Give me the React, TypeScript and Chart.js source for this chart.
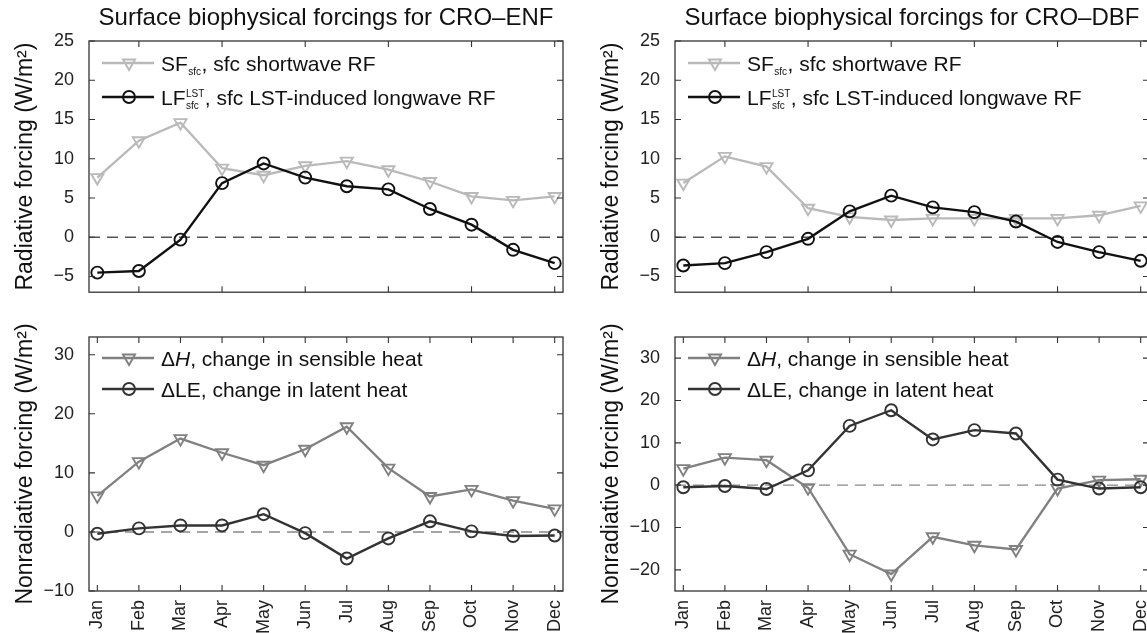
import React, { useEffect, useRef } from "react";
import { Chart, registerables } from "chart.js";

Chart.register(...registerables);

const FONT = "'Liberation Sans', Arial, Helvetica, sans-serif";

// ---------- data ----------
const months = ["Jan", "Feb", "Mar", "Apr", "May", "Jun", "Jul", "Aug", "Sep", "Oct", "Nov", "Dec"];
const monthIndex = [1, 2, 3, 4, 5, 6, 7, 8, 9, 10, 11, 12];

// CRO–ENF
const enfSF = [7.6, 12.3, 14.6, 8.8, 7.9, 9.1, 9.7, 8.6, 7.1, 5.2, 4.7, 5.2];
const enfLF = [-4.5, -4.3, -0.3, 6.9, 9.4, 7.6, 6.5, 6.1, 3.6, 1.6, -1.6, -3.3];
const enfDH = [6.1, 11.9, 15.8, 13.4, 11.3, 14.0, 17.8, 10.8, 6.0, 7.2, 5.3, 3.9];
const enfDLE = [-0.3, 0.6, 1.1, 1.1, 3.0, -0.2, -4.5, -1.1, 1.8, 0.1, -0.7, -0.6];

// CRO–DBF
const dbfSF = [6.9, 10.3, 9.0, 3.7, 2.6, 2.2, 2.4, 2.4, 2.4, 2.4, 2.8, 4.0];
const dbfLF = [-3.6, -3.3, -1.9, -0.2, 3.3, 5.3, 3.8, 3.2, 2.0, -0.6, -1.9, -3.0];
const dbfDH = [3.9, 6.5, 5.9, -0.6, -16.3, -21.0, -12.2, -14.2, -15.2, -0.8, 1.2, 1.4];
const dbfDLE = [-0.5, -0.2, -0.9, 3.5, 14.0, 17.7, 10.8, 13.0, 12.2, 1.3, -0.8, -0.5];

// tick values
const radTicks = [-5, 0, 5, 10, 15, 20, 25];
const enfNonRadTicks = [-10, 0, 10, 20, 30];
const dbfNonRadTicks = [-20, -10, 0, 10, 20, 30];
const topXTicks = [2, 4, 6, 8, 10, 12];
const bottomXTicks = monthIndex;

// ---------- styling ----------
const C_SF = "#b9b9b9";
const C_LF = "#111111";
const C_DH = "#808080";
const C_DLE = "#333333";

type Run = { t?: string; sub?: string; sup?: string; italic?: boolean };
type Series = { values: number[]; color: string; marker: "tri" | "circ"; lineWidth: number; order: number; runs: Run[] };
type PanelCfg = {
  title?: string;
  yTitle: string;
  yMin: number;
  yMax: number;
  yTicks: number[];
  xTicks: number[];
  showXLabels: boolean;
  xAxisH: number;
  topPad: number;
  zeroColor: string;
  legendRows: number[];
  series: Series[];
};

const sfRuns: Run[] = [{ t: "SF" }, { sub: "sfc" }, { t: ", sfc shortwave RF" }];
const lfRuns: Run[] = [{ t: "LF" }, { sup: "LST", sub: "sfc" }, { t: ", sfc LST-induced longwave RF" }];
const dhRuns: Run[] = [{ t: "\u0394" }, { t: "H", italic: true }, { t: ", change in sensible heat" }];
const dleRuns: Run[] = [{ t: "\u0394LE, change in latent heat" }];

function drawMarker(ctx: CanvasRenderingContext2D, kind: "tri" | "circ", x: number, y: number, color: string) {
  ctx.save();
  ctx.strokeStyle = color;
  ctx.lineWidth = 1.9;
  ctx.setLineDash([]);
  ctx.beginPath();
  if (kind === "circ") {
    ctx.arc(x, y, 6, 0, Math.PI * 2);
  } else {
    const r = 7;
    let a = Math.PI;
    ctx.moveTo(x + Math.sin(a) * r, y - Math.cos(a) * r);
    a += (2 * Math.PI) / 3;
    ctx.lineTo(x + Math.sin(a) * r, y - Math.cos(a) * r);
    a += (2 * Math.PI) / 3;
    ctx.lineTo(x + Math.sin(a) * r, y - Math.cos(a) * r);
    ctx.closePath();
  }
  ctx.stroke();
  ctx.restore();
}

function makeDecor(cfg: PanelCfg) {
  return {
    id: "panelDecor",
    beforeDatasetsDraw(chart: any) {
      const { ctx, chartArea } = chart;
      const y0 = chart.scales.y.getPixelForValue(0);
      ctx.save();
      ctx.setLineDash([11, 7]);
      ctx.strokeStyle = cfg.zeroColor;
      ctx.lineWidth = 1.4;
      ctx.beginPath();
      ctx.moveTo(chartArea.left, y0);
      ctx.lineTo(chartArea.right, y0);
      ctx.stroke();
      ctx.restore();
    },
    afterDatasetsDraw(chart: any) {
      const { ctx, chartArea } = chart;
      const { left, right, top, bottom } = chartArea;
      const xs = chart.scales.x;
      const ys = chart.scales.y;
      ctx.save();
      ctx.setLineDash([]);
      ctx.strokeStyle = "#333";
      ctx.lineWidth = 1.3;
      ctx.strokeRect(left, top, right - left, bottom - top);
      ctx.lineWidth = 1.1;
      ctx.beginPath();
      const tl = 6;
      for (const t of xs.ticks) {
        const px = xs.getPixelForValue(t.value);
        ctx.moveTo(px, bottom);
        ctx.lineTo(px, bottom - tl);
        ctx.moveTo(px, top);
        ctx.lineTo(px, top + tl);
      }
      for (const t of ys.ticks) {
        const py = ys.getPixelForValue(t.value);
        ctx.moveTo(left, py);
        ctx.lineTo(left + tl, py);
        ctx.moveTo(right, py);
        ctx.lineTo(right - tl, py);
      }
      ctx.stroke();

      // legend
      cfg.series.forEach((s, i) => {
        const cy = top + cfg.legendRows[i];
        ctx.strokeStyle = s.color;
        ctx.lineWidth = s.lineWidth;
        ctx.beginPath();
        ctx.moveTo(left + 13, cy);
        ctx.lineTo(left + 65, cy);
        ctx.stroke();
        drawMarker(ctx, s.marker, left + 40, cy, s.color);
        let x = left + 72;
        const base = cy + 7.5;
        ctx.fillStyle = "#111";
        ctx.textBaseline = "alphabetic";
        ctx.textAlign = "left";
        for (const r of s.runs) {
          if (r.t) {
            ctx.font = `${r.italic ? "italic " : ""}21px ${FONT}`;
            ctx.fillText(r.t, x, base);
            x += ctx.measureText(r.t).width;
          } else {
            ctx.font = `10px ${FONT}`;
            let w = 0;
            if (r.sup) {
              ctx.fillText(r.sup, x + 0.5, base - 8);
              w = Math.max(w, ctx.measureText(r.sup).width);
            }
            if (r.sub) {
              ctx.fillText(r.sub, x + 0.5, base + 4);
              w = Math.max(w, ctx.measureText(r.sub).width);
            }
            x += w + 1;
          }
        }
      });
      ctx.restore();
    },
  };
}

function tickText(v: number) {
  return v < 0 ? "\u2212" + Math.abs(v) : String(v);
}

function buildConfig(cfg: PanelCfg): any {
  return {
    type: "line",
    data: {
      datasets: cfg.series.map((s) => ({
        data: monthIndex.map((m, i) => ({ x: m, y: s.values[i] })),
        borderColor: s.color,
        borderWidth: s.lineWidth,
        pointStyle: s.marker === "tri" ? "triangle" : "circle",
        pointRotation: s.marker === "tri" ? 180 : 0,
        pointRadius: s.marker === "tri" ? 7 : 6,
        pointBorderWidth: 1.9,
        pointBorderColor: s.color,
        pointBackgroundColor: "rgba(0,0,0,0)",
        fill: false,
        tension: 0,
        order: s.order,
      })),
    },
    options: {
      animation: false,
      responsive: false,
      events: [],
      layout: { padding: { left: 0, right: 17, top: cfg.topPad, bottom: 0 } },
      plugins: {
        legend: { display: false },
        tooltip: { enabled: false },
        title: {
          display: !!cfg.title,
          text: cfg.title || "",
          fullSize: false,
          color: "#111",
          font: { size: 24, family: FONT, weight: "normal" },
          padding: { top: 4, bottom: 8.2 },
        },
      },
      scales: {
        x: {
          type: "linear",
          min: 0.8,
          max: 12.2,
          grid: { display: false },
          border: { display: false },
          afterBuildTicks: (s: any) => {
            s.ticks = cfg.xTicks.map((v) => ({ value: v }));
          },
          afterFit: (s: any) => {
            s.height = cfg.xAxisH;
          },
          ticks: {
            display: cfg.showXLabels,
            autoSkip: false,
            minRotation: 90,
            maxRotation: 90,
            padding: 1,
            color: "#222",
            font: { size: 18, family: FONT },
            callback: (v: any) => months[Number(v) - 1] ?? "",
          },
        },
        y: {
          type: "linear",
          min: cfg.yMin,
          max: cfg.yMax,
          grid: { display: false },
          border: { display: false },
          afterBuildTicks: (s: any) => {
            s.ticks = cfg.yTicks.map((v) => ({ value: v }));
          },
          afterFit: (s: any) => {
            s.width = 89;
          },
          ticks: {
            padding: 7,
            color: "#222",
            font: { size: 18, family: FONT },
            callback: (v: any) => tickText(Number(v)),
          },
          title: {
            display: true,
            text: cfg.yTitle,
            color: "#111",
            font: { size: 23, family: FONT },
            padding: { top: 12, bottom: 0 },
          },
        },
      },
    },
    plugins: [makeDecor(cfg)],
  };
}

function Panel({ left, top, width, height, cfg }: { left: number; top: number; width: number; height: number; cfg: PanelCfg }) {
  const ref = useRef<HTMLCanvasElement>(null);
  useEffect(() => {
    const chart = new Chart(ref.current as HTMLCanvasElement, buildConfig(cfg));
    return () => chart.destroy();
  }, []);
  return (
    <canvas
      ref={ref}
      width={width}
      height={height}
      style={{ position: "absolute", left, top, width, height, display: "block" }}
    />
  );
}

const radYTitle = "Radiative forcing (W/m\u00B2)";
const nonRadYTitle = "Nonradiative forcing (W/m\u00B2)";

const topLeft: PanelCfg = {
  title: "Surface biophysical forcings for CRO\u2013ENF",
  yTitle: radYTitle,
  yMin: -7,
  yMax: 25,
  yTicks: radTicks,
  xTicks: topXTicks,
  showXLabels: false,
  xAxisH: 13,
  topPad: 0,
  zeroColor: "#555",
  legendRows: [22, 56],
  series: [
    { values: enfSF, color: C_SF, marker: "tri", lineWidth: 2.3, order: 2, runs: sfRuns },
    { values: enfLF, color: C_LF, marker: "circ", lineWidth: 2.4, order: 1, runs: lfRuns },
  ],
};

const topRight: PanelCfg = {
  ...topLeft,
  title: "Surface biophysical forcings for CRO\u2013DBF",
  series: [
    { values: dbfSF, color: C_SF, marker: "tri", lineWidth: 2.3, order: 2, runs: sfRuns },
    { values: dbfLF, color: C_LF, marker: "circ", lineWidth: 2.4, order: 1, runs: lfRuns },
  ],
};

const bottomLeft: PanelCfg = {
  yTitle: nonRadYTitle,
  yMin: -10,
  yMax: 33,
  yTicks: enfNonRadTicks,
  xTicks: bottomXTicks,
  showXLabels: true,
  xAxisH: 42,
  topPad: 27,
  zeroColor: "#888",
  legendRows: [21, 52],
  series: [
    { values: enfDH, color: C_DH, marker: "tri", lineWidth: 2.3, order: 2, runs: dhRuns },
    { values: enfDLE, color: C_DLE, marker: "circ", lineWidth: 2.4, order: 1, runs: dleRuns },
  ],
};

const bottomRight: PanelCfg = {
  ...bottomLeft,
  yMin: -25,
  yMax: 35,
  yTicks: dbfNonRadTicks,
  series: [
    { values: dbfDH, color: C_DH, marker: "tri", lineWidth: 2.3, order: 2, runs: dhRuns },
    { values: dbfDLE, color: C_DLE, marker: "circ", lineWidth: 2.4, order: 1, runs: dleRuns },
  ],
};

export default function App() {
  return (
    <div
      style={{
        position: "fixed",
        left: 0,
        top: 0,
        width: 1147,
        height: 633,
        overflow: "hidden",
        background: "#fff",
      }}
    >
      <Panel left={0} top={0} width={580} height={310} cfg={topLeft} />
      <Panel left={586} top={0} width={580} height={310} cfg={topRight} />
      <Panel left={0} top={310} width={580} height={323} cfg={bottomLeft} />
      <Panel left={586} top={310} width={580} height={323} cfg={bottomRight} />
    </div>
  );
}
